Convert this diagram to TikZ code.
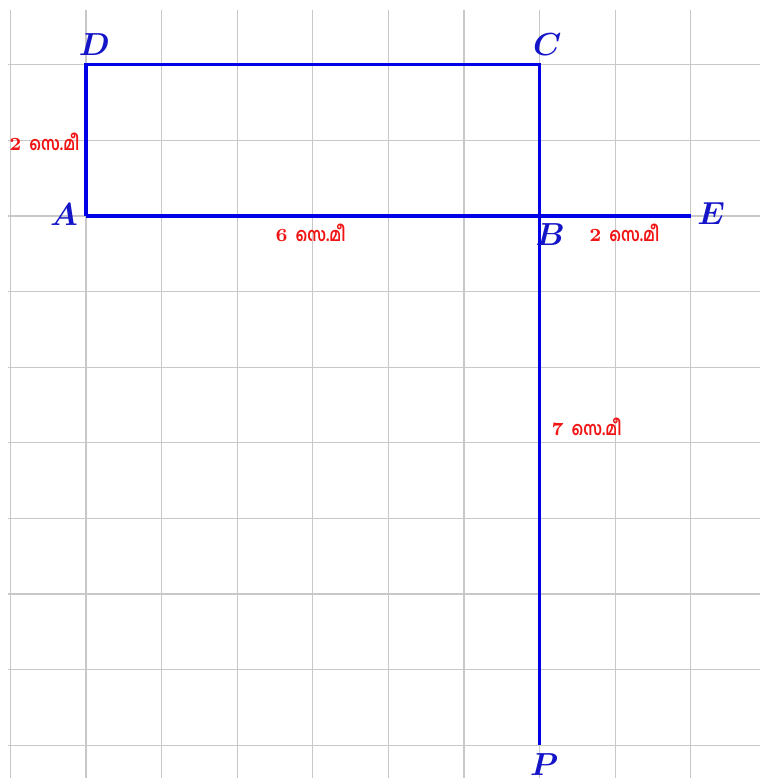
\documentclass[tikz,border=0pt]{standalone}
\usepackage{graphicx}
\usepackage{fontspec}
\newfontfamily\malfont[Script=Malayalam]{Hind Kochi}
\definecolor{lineblue}{RGB}{0,0,230}
\definecolor{labblue}{RGB}{20,20,200}
\definecolor{labred}{RGB}{240,20,20}
\definecolor{gridgray}{RGB}{200,200,200}
\tikzset{
  seg/.style={lineblue, line width=1.2pt},
  pt/.style={text=labblue, font=\large\boldmath, inner sep=0pt},
  meas/.style={text=labred, font=\fontsize{7}{8}\selectfont\bfseries, inner sep=0pt},
  gridline/.style={gridgray, line width=0.45pt}
}
\newcommand{\cm}[1]{#1 \scalebox{0.82}[1]{\malfont\bfseries സെ.മീ}}
\begin{document}
\begin{tikzpicture}
\useasboundingbox (-1.138,-7.434) rectangle (8.915,2.857);
% grid
\foreach \x in {-1,...,8} \draw[gridline] (\x,2.725) -- (\x,-7.434);
\foreach \y in {2,1,...,-7} \draw[gridline] (-1.03,\y) -- (8.915,\y);
% points
\coordinate (A) at (0,0);
\coordinate (B) at (6,0);
\coordinate (C) at (6,2);
\coordinate (D) at (0,2);
\coordinate (E) at (8,0);
\coordinate (P) at (6,-7);
% segments
\draw[seg] (A) -- (E);
\draw[seg] (A) -- (D) -- (C) -- (P);
% point labels
\node[pt] (lA) at (-0.29,0.02) {$A$};
\node[pt] (lB) at (6.14,-0.25) {$B$};
\node[pt] (lC) at (6.1,2.27) {$C$};
\node[pt] (lD) at (0.11,2.27) {$D$};
\node[pt] (lE) at (8.27,0.03) {$E$};
\node[pt] (lP) at (6.06,-7.26) {$P$};
% measures
\node[meas, anchor=east] (mAD) at (-0.08,0.98) {\cm{2}};
\node[meas] (mAB) at (2.97,-0.22) {\cm{6}};
\node[meas] (mBE) at (7.12,-0.22) {\cm{2}};
\node[meas, anchor=west] (mBP) at (6.15,-2.79) {\cm{7}};
\end{tikzpicture}
\end{document}
